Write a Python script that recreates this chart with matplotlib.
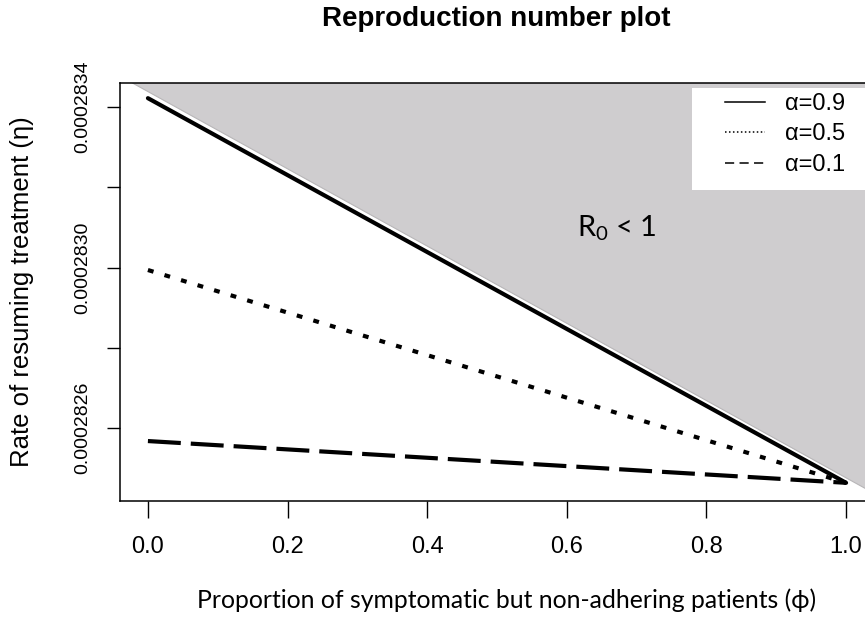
import matplotlib
matplotlib.use("Agg")
import matplotlib.pyplot as plt
from matplotlib.lines import Line2D
from matplotlib.patches import Rectangle

plt.rcParams['mathtext.fontset'] = 'custom'
plt.rcParams['mathtext.rm'] = 'Lato'
plt.rcParams['mathtext.it'] = 'Lato'

phi = [0.0, 0.25, 0.5, 0.75, 1.0]
eta_a09 = [28342.2, 28318.25, 28294.3, 28270.35, 28246.4]
eta_a05 = [28299.4, 28286.15, 28272.9, 28259.65, 28246.4]
eta_a01 = [28256.8, 28254.2, 28251.6, 28249.0, 28246.4]

# R0 = 1 threshold (upper edge of the plotted region)
phi_edge = [-0.04, 1.04]
eta_edge = [28347.75, 28243.85]

y_ticks = [0.0002826, 0.0002828, 0.0002830, 0.0002832, 0.0002834]
y_labels = ["0.0002826", "", "0.0002830", "", "0.0002834"]
x_ticks = [0.0, 0.2, 0.4, 0.6, 0.8, 1.0]
x_labels = ["0.0", "0.2", "0.4", "0.6", "0.8", "1.0"]
legend_labels = ["α=0.9", "α=0.5", "α=0.1"]

scale = 1e-8
eta_a09 = [v * scale for v in eta_a09]
eta_a05 = [v * scale for v in eta_a05]
eta_a01 = [v * scale for v in eta_a01]
eta_edge = [v * scale for v in eta_edge]
ylim = (28241.87 * scale, 28345.98 * scale)

W, H = 865, 621
fig = plt.figure(figsize=(W / 100, H / 100), dpi=100)
ax = fig.add_axes([120 / W, 1 - 501 / H, (874 - 120) / W, (501 - 83) / H])

ax.fill_between(phi_edge, eta_edge, [ylim[1] * 1.0001] * 2, color='#cfcdcf',
                edgecolor='#b8b6b8', linewidth=0.8, zorder=1)

ax.plot(phi, eta_a09, color='black', linewidth=3, solid_capstyle='round', zorder=3)
ax.plot(phi, eta_a05, color='black', linewidth=3, dashes=(1.4, 2.75), zorder=3)
ax.plot(phi, eta_a01, color='black', linewidth=3, dashes=(7.9, 2.4), zorder=3)

ax.set_xlim(-0.04, 1.04)
ax.set_ylim(*ylim)

ax.set_xticks(x_ticks)
ax.set_xticklabels(x_labels, family='Liberation Sans', fontsize=17)
ax.set_yticks(y_ticks)
ax.set_yticklabels(y_labels, family='Liberation Sans', fontsize=14, rotation=90, va='center')
ax.tick_params(axis='x', length=12, width=1, pad=13)
ax.tick_params(axis='y', length=9.5, width=1, pad=11)
for s in ax.spines.values():
    s.set_linewidth(1.1)

ax.set_ylabel("Rate of resuming treatment (η)", family='Liberation Sans', fontsize=18.5)
ax.yaxis.set_label_coords(-(120 - 34) / (874 - 120), 0.5)

ax.text(617 / W, 1 - 228 / H, r'R$_0$ < 1', transform=fig.transFigure,
        family='Lato', fontsize=21, ha='center', va='center', zorder=4)

# white legend background, as in the reference
ax.add_patch(Rectangle((692 / W, 1 - 190 / H), (880 - 692) / W, (190 - 88) / H,
                       transform=fig.transFigure, facecolor='white',
                       edgecolor='none', zorder=4, clip_on=False))

handles = [
    Line2D([], [], color='black', linewidth=1.1),
    Line2D([], [], color='black', linewidth=1.1, dashes=(1, 1.6)),
    Line2D([], [], color='black', linewidth=1.1, dashes=(6, 3.5)),
]
leg = ax.legend(handles, legend_labels, loc='upper left',
                bbox_to_anchor=(725 / W, 1 - 93 / H), bbox_transform=fig.transFigure,
                prop={'family': 'Liberation Sans', 'size': 17}, frameon=False,
                handlelength=1.7, handletextpad=0.85, labelspacing=0.36,
                borderpad=0, borderaxespad=0)
leg.set_zorder(5)

fig.text(496 / W, 1 - 19 / H, "Reproduction number plot", ha='center', va='center',
         family='Liberation Sans', fontweight='bold', fontsize=20)
fig.text(507 / W, 1 - 600 / H, "Proportion of symptomatic but non-adhering patients (ϕ)",
         ha='center', va='center', family=['Lato', 'DejaVu Sans'], fontsize=17.8)

fig.savefig("out.png", dpi=100)
